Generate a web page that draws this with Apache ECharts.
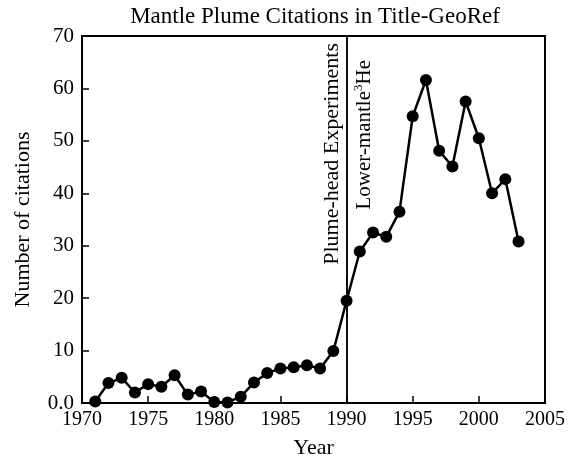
<!DOCTYPE html>
<html>
<head>
<meta charset="utf-8">
<script src="https://cdn.jsdelivr.net/npm/echarts@6/dist/echarts.min.js"></script>
<style>
  html, body { margin: 0; padding: 0; background: #fff; }
  #chart { width: 578px; height: 458px; }
</style>
</head>
<body>
<div id="chart"></div>
<script>
// data
var years = [1971, 1972, 1973, 1974, 1975, 1976, 1977, 1978, 1979, 1980,
  1981, 1982, 1983, 1984, 1985, 1986, 1987, 1988, 1989, 1990,
  1991, 1992, 1993, 1994, 1995, 1996, 1997, 1998, 1999, 2000,
  2001, 2002, 2003];
var citations = [0.3, 3.8, 4.8, 2.0, 3.6, 3.1, 5.3, 1.6, 2.2, 0.2,
  0.1, 1.2, 3.9, 5.7, 6.6, 6.8, 7.2, 6.6, 9.9, 19.5,
  28.9, 32.5, 31.7, 36.5, 54.7, 61.6, 48.1, 45.1, 57.5, 50.5,
  40.0, 42.7, 30.8];
var yTickLabels = ['0.0', '10', '20', '30', '40', '50', '60', '70'];
var eventYear = 1990;
var eventLeft = 'Plume-head Experiments';
var eventRight = ['Lower-mantle', '3', 'He'];

var serif = 'Liberation Serif';
var chart = echarts.init(document.getElementById('chart'));

var option = {
  backgroundColor: '#fff',
  animation: false,
  title: {
    text: 'Mantle Plume Citations in Title-GeoRef',
    left: 310,
    textAlign: 'center',
    top: 0,
    textStyle: { fontFamily: serif, fontSize: 23, fontWeight: 'normal', color: '#000' }
  },
  grid: {
    left: 82, right: 33, top: 36, bottom: 55,
    outerBoundsMode: 'none',
    show: true,
    borderColor: '#000',
    borderWidth: 2
  },
  xAxis: {
    type: 'value',
    min: 1970, max: 2005, interval: 5,
    name: 'Year',
    nameLocation: 'middle',
    nameGap: 34,
    nameTextStyle: { fontFamily: serif, fontSize: 22, color: '#000' },
    axisLine: { lineStyle: { color: '#000', width: 2 } },
    axisTick: { inside: true, length: 7, lineStyle: { color: '#000', width: 1.5 } },
    axisLabel: {
      fontFamily: serif, fontSize: 20, color: '#000', margin: 7,
      formatter: function (v) { return String(v); }
    },
    splitLine: { show: false }
  },
  yAxis: {
    type: 'value',
    min: 0, max: 70, interval: 10,
    name: 'Number of citations',
    nameLocation: 'middle',
    nameGap: 48,
    nameTextStyle: { fontFamily: serif, fontSize: 22, color: '#000' },
    axisLine: { lineStyle: { color: '#000', width: 2 } },
    axisTick: { inside: true, length: 7, lineStyle: { color: '#000', width: 1.5 } },
    axisLabel: {
      fontFamily: serif, fontSize: 21, color: '#000', margin: 8,
      formatter: function (v) { return yTickLabels[v / 10]; }
    },
    splitLine: { show: false }
  },
  series: [{
    type: 'line',
    data: years.map(function (y, i) { return [y, citations[i]]; }),
    symbol: 'circle',
    symbolSize: 12,
    itemStyle: { color: '#000' },
    lineStyle: { color: '#000', width: 2.5 },
    markLine: {
      silent: true,
      symbol: 'none',
      lineStyle: { color: '#000', width: 1.5, type: 'solid' },
      data: [
        {
          xAxis: eventYear,
          label: {
            position: 'insideEndTop',
            distance: [7, 3],
            formatter: eventLeft,
            fontFamily: serif, fontSize: 22, color: '#000'
          }
        },
        {
          xAxis: eventYear,
          label: {
            position: 'insideEndBottom',
            distance: [24, 6],
            formatter: '{a|' + eventRight[0] + '}{s|' + eventRight[1] + '}{a|' + eventRight[2] + '}',
            rich: {
              a: { fontFamily: serif, fontSize: 21, color: '#000' },
              s: { fontFamily: serif, fontSize: 13, color: '#000', verticalAlign: 'top', padding: [0, 0, 10, 0] }
            }
          }
        }
      ]
    }
  }]
};

chart.setOption(option);
</script>
</body>
</html>
